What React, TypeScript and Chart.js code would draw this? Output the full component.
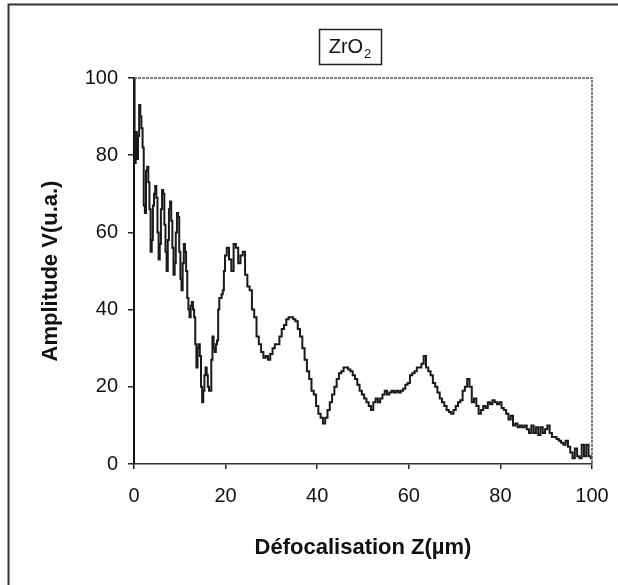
import React, { useEffect, useRef } from "react";
import { Chart, registerables } from "chart.js";

Chart.register(...registerables);

// ---- data ----
const xTicks = [0, 20, 40, 60, 80, 100];
const yTicks = [0, 20, 40, 60, 80, 100];

// amplitude sampled every 0.25 µm from 0 to 19.75 µm
const NEAR_START = 0;
const NEAR_STEP = 0.25;
const ampNear = [
  100, 78, 86, 79, 85, 93, 90, 87,
  82, 67, 65, 76, 77, 73, 66, 55,
  58, 67, 70, 72, 69, 60, 53, 57,
  66, 71, 70, 62, 55, 50, 58, 66,
  68, 63, 56, 49, 52, 60, 65, 64,
  55, 48, 45, 52, 57, 55, 50, 43,
  40, 38, 41, 42, 40, 38, 31, 25,
  30, 31, 28, 20, 16, 19, 23, 25,
  23, 20, 19, 19, 27, 33, 30, 29,
  31, 32, 40, 43, 43, 44, 45, 50,
];

// amplitude sampled every 0.5 µm from 20 to 100 µm
const FAR_START = 20;
const FAR_STEP = 0.5;
const ampFar = [
  54, 56, 53, 50, 57, 56, 52, 54, 55, 49,
  46, 45, 40, 38, 33, 31, 29, 27.5, 28, 27,
  28.5, 30, 31, 31, 33, 35, 36, 37.5, 38, 38,
  37.5, 37, 35, 33, 30, 27, 24, 22, 19, 18,
  15, 13, 12, 10.5, 12, 14, 16, 18, 20, 22,
  23.5, 24, 25, 25, 24.5, 24, 23, 22, 20.5, 19,
  18, 17, 16, 15, 14, 16, 17, 16, 17, 18,
  19, 18, 18.5, 19, 18.5, 19, 18.5, 19, 19.5, 20.5,
  21, 23, 23.5, 24, 25, 25, 26, 28, 25, 24,
  23, 21, 20, 18.5, 17, 16, 15, 14, 13.5, 13,
  14, 15, 16, 16.5, 19, 20, 22, 20, 16, 17,
  15, 13, 14, 15, 14.5, 16, 15.5, 16.5, 16, 15.5,
  16, 14.5, 14, 13, 11.5, 12.5, 10, 10.5, 9.5, 10,
  9.5, 10, 9, 8, 10, 8, 9.5, 7.5, 9.5, 8,
  9, 10, 8, 7, 7, 6.5, 6, 5.5, 5, 6,
  4.5, 3, 1.5, 4, 2, 1.5, 5, 2, 5, 2,
  1.5,
];

const titleMain = "ZrO";
const titleSub = "2";
const xTitle = "Défocalisation Z(µm)";
const yTitle = "Amplitude V(u.a.)";

const FONT = "'Liberation Sans', Arial, sans-serif";

const decorPlugin = {
  id: "decor",
  afterDraw(chart: any) {
    const { ctx, chartArea: a } = chart;
    ctx.save();
    // top and right edges of plot frame
    ctx.strokeStyle = "#555";
    ctx.lineWidth = 1.5;
    ctx.setLineDash([3, 1]);
    ctx.beginPath();
    ctx.moveTo(a.left, a.top);
    ctx.lineTo(a.right, a.top);
    ctx.lineTo(a.right, a.bottom);
    ctx.stroke();
    ctx.setLineDash([]);

    // outer frame (left and top visible)
    ctx.strokeStyle = "#333";
    ctx.lineWidth = 2;
    ctx.beginPath();
    ctx.moveTo(8.5, chart.height);
    ctx.lineTo(8.5, 4.5);
    ctx.lineTo(chart.width, 4.5);
    ctx.stroke();

    // boxed title
    ctx.fillStyle = "#111";
    ctx.textBaseline = "alphabetic";
    ctx.textAlign = "left";
    ctx.font = `20px ${FONT}`;
    const wMain = ctx.measureText(titleMain).width;
    ctx.font = `13px ${FONT}`;
    const wSub = ctx.measureText(titleSub).width;
    const total = wMain + 1 + wSub;
    const cx = 350;
    const x0 = cx - total / 2;
    ctx.font = `20px ${FONT}`;
    ctx.fillText(titleMain, x0, 53);
    ctx.font = `13px ${FONT}`;
    ctx.fillText(titleSub, x0 + wMain + 1, 58);
    ctx.strokeStyle = "#222";
    ctx.lineWidth = 1.5;
    ctx.strokeRect(319.5, 29.5, 62, 35);
    ctx.restore();
  },
};

export default function App() {
  const ref = useRef<HTMLCanvasElement | null>(null);

  useEffect(() => {
    if (!ref.current) return;
    const points: { x: number; y: number }[] = [];
    ampNear.forEach((v, i) => points.push({ x: NEAR_START + i * NEAR_STEP, y: v }));
    ampFar.forEach((v, i) => points.push({ x: FAR_START + i * FAR_STEP, y: v }));

    const chart = new Chart(ref.current, {
      type: "line",
      data: {
        datasets: [
          {
            data: points,
            borderColor: "#1a1a1a",
            borderWidth: 2,
            pointRadius: 0,
            stepped: "middle",
            fill: false,
          },
        ],
      },
      plugins: [decorPlugin],
      options: {
        animation: false,
        responsive: false,
        devicePixelRatio: 1,
        layout: { padding: { left: 0, right: 26, top: 78, bottom: 0 } },
        plugins: {
          legend: { display: false },
          tooltip: { enabled: false },
          title: { display: false },
        },
        scales: {
          x: {
            type: "linear",
            min: 0,
            max: 100,
            afterBuildTicks: (s: any) => {
              s.ticks = xTicks.map((v) => ({ value: v }));
            },
            afterFit: (s: any) => {
              s.height = 121;
              s.paddingLeft = 0;
              s.paddingRight = 0;
            },
            grid: {
              drawOnChartArea: false,
              drawTicks: true,
              tickLength: 5,
              color: "#222",
              lineWidth: 1.5,
            },
            border: { display: true, color: "#333", width: 1.5 },
            ticks: {
              color: "#111",
              font: { family: FONT, size: 20 },
              padding: 15,
              maxRotation: 0,
              autoSkip: false,
            },
            title: {
              display: true,
              text: xTitle,
              color: "#111",
              font: { family: FONT, size: 22, weight: "bold" },
              padding: { top: 0, bottom: 24 },
            },
          },
          y: {
            type: "linear",
            min: 0,
            max: 100,
            afterBuildTicks: (s: any) => {
              s.ticks = yTicks.map((v) => ({ value: v }));
            },
            afterFit: (s: any) => {
              s.width = 134;
              s.paddingTop = 0;
              s.paddingBottom = 0;
            },
            grid: {
              drawOnChartArea: false,
              drawTicks: true,
              tickLength: 6,
              color: "#222",
              lineWidth: 1.5,
            },
            border: { display: true, color: "#111", width: 2 },
            ticks: {
              color: "#111",
              font: { family: FONT, size: 20 },
              padding: 10,
              autoSkip: false,
            },
            title: {
              display: true,
              text: yTitle,
              color: "#111",
              font: { family: FONT, size: 22, weight: "bold" },
              padding: { top: 38, bottom: 0 },
            },
          },
        },
      },
    } as any);
    return () => chart.destroy();
  }, []);

  return (
    <div style={{ position: "absolute", left: 0, top: 0, width: 618, height: 585, background: "#fff" }}>
      <canvas ref={ref} width={618} height={585} />
    </div>
  );
}
